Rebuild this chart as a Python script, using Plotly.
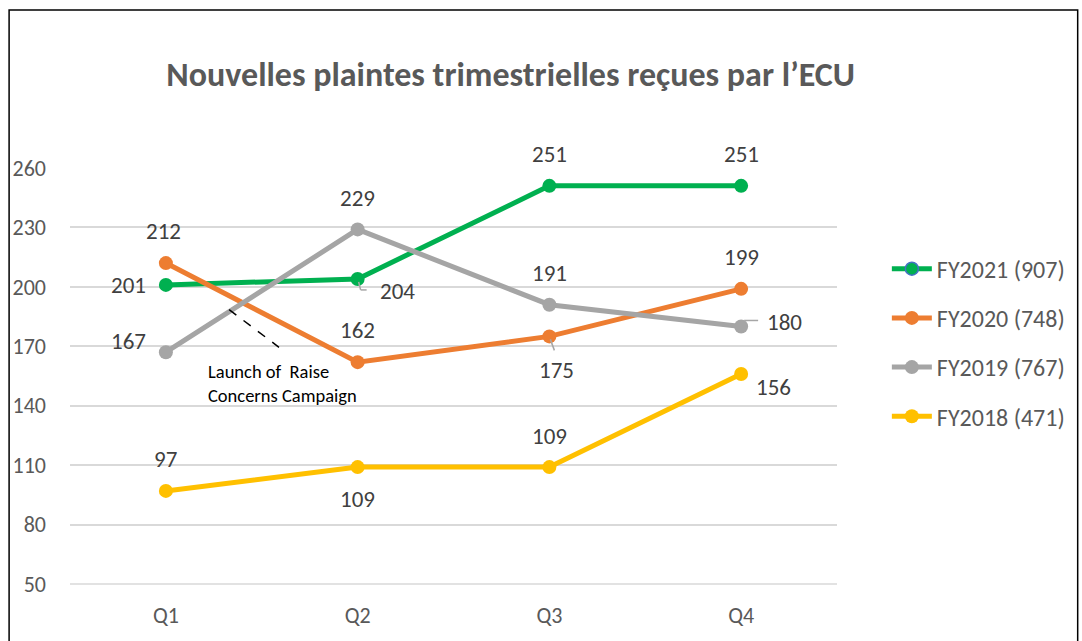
import plotly.graph_objects as go

quarters = ["Q1", "Q2", "Q3", "Q4"]
series_names = ["FY2021 (907)", "FY2020 (748)", "FY2019 (767)", "FY2018 (471)"]
fy2021 = [201, 204, 251, 251]
fy2020 = [212, 162, 175, 199]
fy2019 = [167, 229, 191, 180]
fy2018 = [97, 109, 109, 156]
y_ticks = [50, 80, 110, 140, 170, 200, 230, 260]

colors = ["#00B050", "#ED7D31", "#A5A5A5", "#FFC000"]
# label offsets in pixels (dx, dy) per series/point
label_offsets = [
    [(-37, 0), (40, 12), (0, -32), (0, -32)],
    [(-2, -32), (0, -32), (7, 34), (0, -32)],
    [(-37, -11), (0, -31), (0, -32), (43, -4)],
    [(0, -32), (0, 32), (0, -31), (32, 13)],
]
all_series = [fy2021, fy2020, fy2019, fy2018]

FONT = "Carlito, Calibri, Lato, sans-serif"

fig = go.Figure()

# bottom gridline (plotly hides the grid at the range edge); paper ref so it is not clipped
fig.add_shape(type="line", xref="paper", yref="paper", x0=0, x1=1, y0=0, y1=0,
              line=dict(color="#D9D9D9", width=1.5), layer="below")

for i, (name, vals, col) in enumerate(zip(series_names, all_series, colors)):
    fig.add_trace(go.Scatter(
        x=quarters, y=vals, mode="lines+markers", name=name,
        line=dict(color=col, width=5),
        marker=dict(color=col, size=14),
        showlegend=(i != 0), legendgroup=f"g{i}", legendrank=i + 1,
    ))
    for q, v, (dx, dy) in zip(quarters, vals, label_offsets[i]):
        fig.add_annotation(x=q, y=v, text=str(v), showarrow=False,
                           xshift=dx, yshift=-dy,
                           font=dict(family=FONT, size=23, color="#404040"))

# legend entry for FY2021 (marker with blue outline as in reference)
fig.add_trace(go.Scatter(
    x=[None], y=[None], mode="lines+markers", name=series_names[0],
    line=dict(color=colors[0], width=5),
    marker=dict(color=colors[0], size=13, line=dict(color="#4472C4", width=1.5)),
    legendgroup="g0", legendrank=1,
))

# leader lines for some data labels (pixel offsets from the point)
leaders = [
    ("Q2", fy2021[1], [(1, -3), (3, -11), (9, -11)]),
    ("Q3", fy2020[2], [(1, -3), (5, -14)]),
    ("Q4", fy2019[3], [(3, 6), (17, 6)]),
]
for q, v, pts in leaders:
    for (ax0, ay0), (ax1, ay1) in zip(pts[:-1], pts[1:]):
        fig.add_shape(type="line", xref="x", yref="y", xsizemode="pixel", ysizemode="pixel",
                      xanchor=q, yanchor=v, x0=ax0, y0=ay0, x1=ax1, y1=ay1,
                      line=dict(color="#A6A6A6", width=1.5))

# annotation for campaign launch
fig.add_shape(type="line", xref="x", yref="y", x0=0.33, y0=188.5, x1=0.59, y1=169.5,
              line=dict(color="black", width=1.5, dash="dash"))
fig.add_annotation(x=0.21, y=164, xref="x", yref="y", xanchor="left", yanchor="top",
                   text="Launch of  Raise<br>Concerns Campaign", showarrow=False, align="left",
                   font=dict(family=FONT, size=18.5, color="black"))

# chart border
fig.add_shape(type="rect", xref="paper", yref="paper",
              x0=-0.0794, x1=1.3138, y0=-0.2, y1=1.380,
              line=dict(color="black", width=1.5), layer="above")

fig.update_layout(
    width=1082, height=641,
    margin=dict(l=70, r=244, t=168, b=55),
    paper_bgcolor="white", plot_bgcolor="white",
    title=dict(text="<b>Nouvelles plaintes trimestrielles reçues par l’ECU</b>",
               x=0.472, xanchor="center", y=1 - 74 / 641, yanchor="middle",
               font=dict(family=FONT, size=34, color="#595959")),
    font=dict(family=FONT, color="#595959"),
    xaxis=dict(range=[-0.5, 3.5], showgrid=False, zeroline=False, showline=False,
               tickfont=dict(size=22, color="#595959"), ticklabelstandoff=16),
    yaxis=dict(range=[50, 260], tickvals=y_ticks, showgrid=True, gridcolor="#D9D9D9",
               gridwidth=1.5, zeroline=False, showline=False,
               tickfont=dict(size=22, color="#595959"), ticklabelstandoff=23),
    legend=dict(x=1.065, y=0.811, xanchor="left", yanchor="top",
                font=dict(size=24, color="#595959"), tracegroupgap=15,
                bgcolor="rgba(0,0,0,0)", itemwidth=40),
    showlegend=True,
)

fig.write_html("out.html", config={"displayModeBar": False},
               post_script="document.body.style.margin='0';")
